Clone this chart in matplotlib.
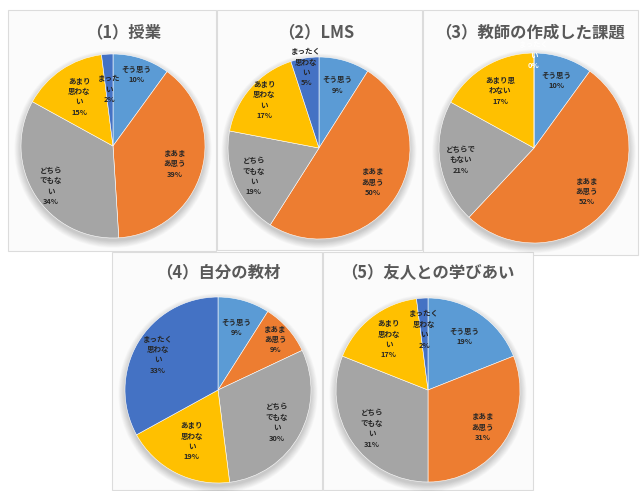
import matplotlib
matplotlib.use("Agg")
import numpy as np
import matplotlib.pyplot as plt
from matplotlib.patches import Rectangle, Circle

plt.rcParams['font.family'] = ['Noto Sans CJK JP', 'DejaVu Sans']

W, H = 641, 491

# answer categories (clockwise from 12 o'clock)
categories = ["そう思う", "まあまあ思う", "どちらでもない", "あまり思わない", "まったく思わない"]
colors = ["#5B9BD5", "#ED7D31", "#A5A5A5", "#FFC000", "#4472C4"]

titles = ["（1）授業", "（2）LMS", "（3）教師の作成した課題", "（4）自分の教材", "（5）友人との学びあい"]

jugyo = [10, 39, 34, 15, 2]
lms = [9, 50, 19, 17, 5]
kadai = [10, 52, 21, 17, 0]
kyozai = [9, 9, 30, 19, 33]
manabi = [19, 31, 31, 17, 2]

# wrapped category text as it appears inside each pie
wrap1 = ["そう思う", "まあま\nあ思う", "どちら\nでもな\nい", "あまり\n思わな\nい", "まった\nい"]
wrap2 = ["そう思う", "まあま\nあ思う", "どちら\nでもな\nい", "あまり\n思わな\nい", "まったく\n思わな\nい"]
wrap3 = ["そう思う", "まあま\nあ思う", "どちらで\nもない", "あまり思\nわない", "まったく\nい"]
wrap4 = ["そう思う", "まあま\nあ思う", "どちら\nでもな\nい", "あまり\n思わな\nい", "まったく\n思わな\nい"]
wrap5 = ["そう思う", "まあま\nあ思う", "どちら\nでもな\nい", "あまり\n思わな\nい", "まったく\n思わな\nい"]

# layout in pixels: panel box (x0, y0, x1, y1), pie centre, radius, title position,
# radial distance of each slice label
panels = [
    dict(box=(8, 10, 216, 251), c=(113, 146), r=92, t=(124, 32), lr=[0.82, 0.7, 0.8, 0.65, 0.62]),
    dict(box=(217, 10, 422, 250), c=(319, 148), r=91, t=(316, 32), lr=[0.72, 0.7, 0.78, 0.8, 0.9]),
    dict(box=(423, 10, 638, 255), c=(534, 148), r=95, t=(530, 32), lr=[0.75, 0.72, 0.78, 0.7, 0.98]),
    dict(box=(112, 252, 322, 490), c=(218, 390), r=93, t=(218, 272), lr=[0.7, 0.82, 0.72, 0.62, 0.75]),
    dict(box=(323, 252, 533, 490), c=(428, 390), r=92, t=(428, 272), lr=[0.7, 0.72, 0.74, 0.7, 0.66]),
]

data = [jugyo, lms, kadai, kyozai, manabi]
wraps = [wrap1, wrap2, wrap3, wrap4, wrap5]

fig = plt.figure(figsize=(W / 100, H / 100), dpi=100)
fig.patch.set_facecolor("white")

for p, vals, wrap, title in zip(panels, data, wraps, titles):
    x0, y0, x1, y1 = p["box"]
    fig.patches.append(Rectangle((x0 / W, 1 - y1 / H), (x1 - x0) / W, (y1 - y0) / H,
                                 transform=fig.transFigure, facecolor="#fbfbfb",
                                 edgecolor="#dcdcdc", linewidth=0.8, zorder=-5))
    fig.text(p["t"][0] / W, 1 - p["t"][1] / H, title, ha="center", va="center",
             fontsize=11.8, color="#595959", fontweight="bold")

    cx, cy = p["c"]
    r = p["r"]
    ax = fig.add_axes([(cx - r) / W, 1 - (cy + r) / H, 2 * r / W, 2 * r / H])
    ax.axis("off")

    # soft drop shadow under the pie
    for i in range(10):
        ax.add_patch(Circle((0, -0.035), 1.0 + 0.008 * i, color="black",
                            alpha=0.02, linewidth=0, clip_on=False, zorder=0))

    wedges, _ = ax.pie(vals, colors=colors, startangle=90, counterclock=False,
                       radius=1, wedgeprops=dict(linewidth=0.4, edgecolor="white"))
    for w in wedges:
        w.set_zorder(2)
    ax.set_xlim(-1, 1)
    ax.set_ylim(-1, 1)

    total = sum(vals)
    cum = 0
    for v, txt, lr in zip(vals, wrap, p["lr"]):
        mid = (cum + v / 2) / total * 2 * np.pi
        cum += v
        tx, ty = lr * np.sin(mid), lr * np.cos(mid)
        col = "white" if v == 0 else "#262626"
        ax.text(tx, ty, f"{txt}\n{v}%", ha="center", va="center", fontsize=5.4,
                color=col, fontweight="bold", linespacing=1.55, zorder=3, clip_on=False)

fig.savefig("out.png", dpi=100)
